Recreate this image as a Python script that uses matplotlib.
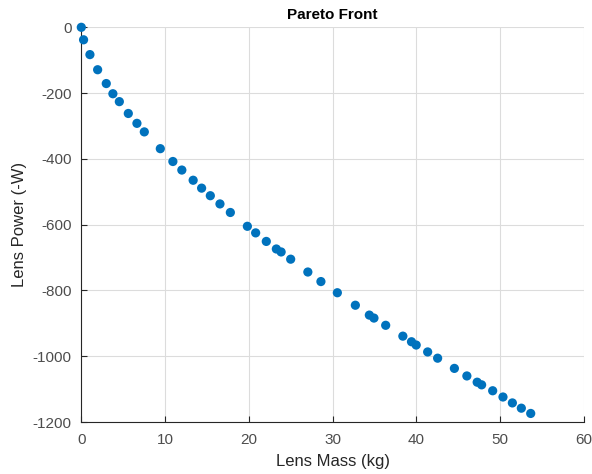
import numpy as np
import matplotlib.pyplot as plt

# valeurs
masse_kg = [0.0, 0.27, 1.03, 1.95, 2.98, 3.77, 4.54, 5.61, 6.64, 7.52,
            9.43, 10.93, 12.0, 13.35, 14.36, 15.4, 16.55, 17.79, 19.82, 20.81,
            22.08, 23.28, 23.85, 24.99, 27.04, 28.6, 30.56, 32.71, 34.38, 34.93,
            36.33, 38.38, 39.41, 39.97, 41.34, 42.53, 44.53, 46.02, 47.25, 47.78,
            49.1, 50.33, 51.45, 52.52, 53.64]
puissance = [0, -38, -83, -129, -171, -202, -226, -262, -292, -318,
             -369, -408, -434, -465, -489, -512, -537, -563, -605, -625,
             -651, -674, -683, -705, -744, -773, -807, -845, -875, -884,
             -906, -939, -956, -966, -987, -1006, -1037, -1060, -1079, -1087,
             -1105, -1124, -1142, -1158, -1174]

x_ticks = [0, 10, 20, 30, 40, 50, 60]
y_ticks = [-1200, -1000, -800, -600, -400, -200, 0]

plt.rcParams['font.family'] = ['Liberation Sans', 'DejaVu Sans']
plt.rcParams['axes.unicode_minus'] = False

fig = plt.figure(figsize=(5.92, 4.74), dpi=100)
ax = fig.add_axes([81.3 / 592, 1 - 422 / 474, (584 - 81.3) / 592, (422 - 27.3) / 474])

ax.scatter(masse_kg, puissance, s=44, color='#0072BD', edgecolors='none', zorder=3, clip_on=False)

ax.set_xlim(0, 60)
ax.set_ylim(-1200, 0)
ax.set_xticks(x_ticks)
ax.set_yticks(y_ticks)
ax.grid(True, color='#DCDCDC', linewidth=0.8)
ax.set_axisbelow(True)
for s in ['top', 'right']:
    ax.spines[s].set_visible(False)
for s in ['left', 'bottom']:
    ax.spines[s].set_color('#262626')
    ax.spines[s].set_linewidth(0.8)
ax.tick_params(direction='in', length=4, colors='#262626', labelsize=11, labelcolor='#4D4D4D')
ax.tick_params(axis='x', pad=8)
ax.tick_params(axis='y', pad=7)

ax.set_xlabel('Lens Mass (kg)', fontsize=12, color='#262626', labelpad=5)
ax.set_ylabel('Lens Power (-W)', fontsize=12, color='#262626', labelpad=4)
ax.set_title('Pareto Front', fontsize=11, fontweight='bold', color='black', pad=6)

fig.savefig('out.png', dpi=100)
